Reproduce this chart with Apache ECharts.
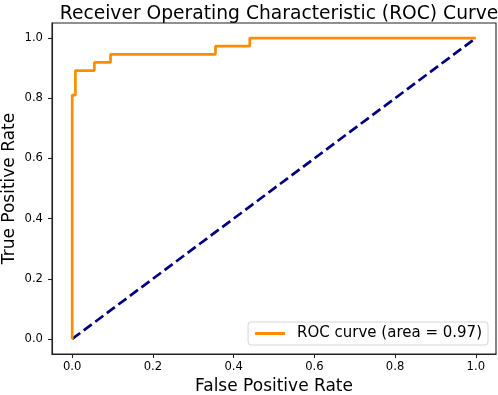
<!DOCTYPE html>
<html>
<head>
<meta charset="utf-8">
<script src="https://cdn.jsdelivr.net/npm/echarts@6/dist/echarts.min.js"></script>
<style>
  html, body { margin: 0; padding: 0; background: #fff; }
  #roc-chart { width: 498px; height: 395px; }
</style>
</head>
<body>
<div id="roc-chart"></div>
<script>
// roc points (corners of the steps)
var fpr = [0, 0, 0.008, 0.008, 0.055, 0.055, 0.095, 0.095, 0.355, 0.355, 0.44, 0.44, 1.0];
var tpr = [0, 0.81, 0.81, 0.892, 0.892, 0.919, 0.919, 0.946, 0.946, 0.973, 0.973, 1.0, 1.0];
var chanceX = [0, 1];
var chanceY = [0, 1];
var tickVals = [0, 0.2, 0.4, 0.6, 0.8, 1.0];
var rocName = 'ROC curve (area = 0.97)';

var rocData = [];
for (var i = 0; i < fpr.length; i++) {
    rocData.push([fpr[i], tpr[i]]);
}
var chanceData = [];
for (var j = 0; j < chanceX.length; j++) {
    chanceData.push([chanceX[j], chanceY[j]]);
}

var font = 'DejaVu Sans';
var myChart = echarts.init(document.getElementById('roc-chart'));
var option = {
    animation: false,
    title: {
        text: 'Receiver Operating Characteristic (ROC) Curve',
        left: 274,
        textAlign: 'center',
        top: 0,
        textStyle: { fontFamily: font, fontSize: 18.7, fontWeight: 'normal', color: '#000' }
    },
    grid: {
        left: 52, right: 2, top: 23, bottom: 41,
        containLabel: false,
        outerBoundsMode: 'none',
        show: true, borderColor: '#222', borderWidth: 1.1, backgroundColor: 'transparent'
    },
    legend: {
        right: 10,
        bottom: 50,
        orient: 'vertical',
        data: [{ name: rocName, icon: 'rect' }],
        itemWidth: 30,
        itemHeight: 3,
        padding: [4, 6, 4, 7],
        borderColor: '#d6d6d6',
        borderWidth: 1,
        borderRadius: 3,
        backgroundColor: 'rgba(255,255,255,0.8)',
        textStyle: { fontFamily: font, fontSize: 15, color: '#000', padding: [0, 0, 0, 7] }
    },
    xAxis: {
        type: 'value',
        min: -0.05,
        max: 1.05,
        name: 'False Positive Rate',
        nameLocation: 'middle',
        nameGap: 24,
        nameMoveOverlap: false,
        nameTextStyle: { fontFamily: font, fontSize: 17, color: '#000' },
        splitLine: { show: false },
        axisLine: { show: true, onZero: false, lineStyle: { color: '#222', width: 1.1 } },
        axisTick: { show: true, length: 4, customValues: tickVals, lineStyle: { color: '#222', width: 1.1 } },
        axisLabel: {
            customValues: tickVals, margin: 7,
            fontFamily: font, fontSize: 11.6, color: '#000',
            formatter: function (v) { return v.toFixed(1); }
        }
    },
    yAxis: {
        type: 'value',
        min: -0.05,
        max: 1.05,
        name: 'True Positive Rate',
        nameLocation: 'middle',
        nameGap: 34,
        nameMoveOverlap: false,
        nameTextStyle: { fontFamily: font, fontSize: 17, color: '#000' },
        splitLine: { show: false },
        axisLine: { show: true, onZero: false, lineStyle: { color: '#222', width: 1.1 } },
        axisTick: { show: true, length: 4, customValues: tickVals, lineStyle: { color: '#222', width: 1.1 } },
        axisLabel: {
            customValues: tickVals, margin: 9,
            fontFamily: font, fontSize: 11.6, color: '#000',
            formatter: function (v) { return v.toFixed(1); }
        }
    },
    series: [
        {
            name: rocName,
            type: 'line',
            data: rocData,
            showSymbol: false,
            symbol: 'none',
            color: '#ff8c00',
            lineStyle: { color: '#ff8c00', width: 2.7 },
            z: 3
        },
        {
            name: 'chance',
            type: 'line',
            data: chanceData,
            showSymbol: false,
            symbol: 'none',
            lineStyle: { color: '#000080', width: 2.7, type: [10, 4.4] },
            z: 2
        }
    ]
};
myChart.setOption(option);
</script>
</body>
</html>
